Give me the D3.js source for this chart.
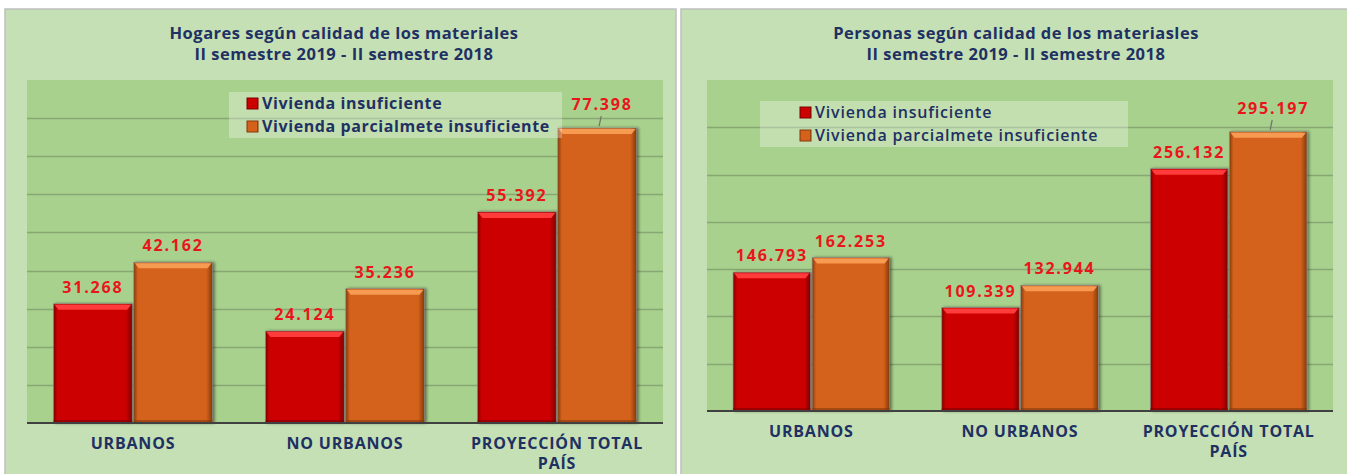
<!DOCTYPE html>
<html>
<head>
<meta charset="utf-8">
<script src="https://d3js.org/d3.v7.min.js"></script>
<style>
    body { margin: 0; background: #fff; }
    svg { display: block; }
    text { font-family: "Open Sans", sans-serif; }
</style>
</head>
<body>
<div id="chart"></div>
<script>
// datos
const categories = ["URBANOS", "NO URBANOS", "PROYECCIÓN TOTAL PAÍS"];
const seriesNames = ["Vivienda insuficiente", "Vivienda parcialmete insuficiente"];

const hogaresInsuficiente = [31268, 24124, 55392];
const hogaresParcial = [42162, 35236, 77398];
const hogaresMax = 90000;
const hogaresStep = 10000;

const personasInsuficiente = [146793, 109339, 256132];
const personasParcial = [162253, 132944, 295197];
const personasMax = 350000;
const personasStep = 50000;

const W = 1347, H = 474;

const esLocale = d3.formatLocale({ decimal: ",", thousands: ".", grouping: [3], currency: ["", ""] });
const fmt = esLocale.format(",d");

const svg = d3.select('#chart').append('svg')
    .attr('width', W)
    .attr('height', H);

const defs = svg.append('defs');

// colores de las series: base, claro (bisel superior), oscuro (bordes)
const palette = [
    { base: '#cc0000', light: '#ff3b3b', dark: '#7d0000' },
    { base: '#d4621a', light: '#f79a52', dark: '#84390c' }
];

palette.forEach((p, i) => {
    const g = defs.append('linearGradient')
        .attr('id', 'barGrad' + i)
        .attr('x1', 0).attr('x2', 1).attr('y1', 0).attr('y2', 0);
    g.append('stop').attr('offset', '0%').attr('stop-color', p.dark);
    g.append('stop').attr('offset', '5%').attr('stop-color', p.base);
    g.append('stop').attr('offset', '92%').attr('stop-color', p.base);
    g.append('stop').attr('offset', '100%').attr('stop-color', p.dark);
});

const shadow = defs.append('filter').attr('id', 'barShadow')
    .attr('x', '-10%').attr('y', '-10%').attr('width', '130%').attr('height', '120%');
shadow.append('feDropShadow')
    .attr('dx', 2).attr('dy', 0).attr('stdDeviation', 1.5)
    .attr('flood-color', '#000').attr('flood-opacity', 0.45);

function wrapLabel(label) {
    if (label.length <= 12) return [label];
    const idx = label.lastIndexOf(' ');
    return [label.slice(0, idx), label.slice(idx + 1)];
}

function drawChart(cfg) {
    const root = svg.append('g');

    // panel exterior
    root.append('rect')
        .attr('x', cfg.panel[0]).attr('y', cfg.panel[1])
        .attr('width', cfg.panel[2]).attr('height', cfg.panel[3])
        .attr('fill', '#c5e0b4')
        .attr('stroke', '#bfbfbf')
        .attr('stroke-width', 1.5);

    const left = cfg.plot[0], top = cfg.plot[1], right = cfg.plot[2], bottom = cfg.plot[3];

    // área de trazado
    root.append('rect')
        .attr('x', left).attr('y', top)
        .attr('width', right - left).attr('height', bottom - top)
        .attr('fill', '#a9d18e');

    const y = d3.scaleLinear().domain([0, cfg.max]).range([bottom, top]);
    const x0 = d3.scaleBand().domain(categories).range([left, right])
        .paddingInner(0.25).paddingOuter(0.125);
    const x1 = d3.scaleBand().domain([0, 1]).range([0, x0.bandwidth()]).paddingInner(0.02);

    // líneas de cuadrícula
    const ticks = d3.range(cfg.step, cfg.max, cfg.step);
    root.append('g').selectAll('line')
        .data(ticks)
        .join('line')
        .attr('x1', left).attr('x2', right)
        .attr('y1', d => Math.round(y(d)) + 0.5)
        .attr('y2', d => Math.round(y(d)) + 0.5)
        .attr('stroke', '#87a873')
        .attr('stroke-width', 1.5);

    // títulos
    const title = root.append('text')
        .attr('text-anchor', 'middle')
        .attr('font-size', '16.5px')
        .attr('font-weight', 'bold')
        .attr('letter-spacing', '0.5px')
        .attr('fill', '#1f3063');
    cfg.title.forEach((t, i) => {
        title.append('tspan')
            .attr('x', cfg.titleX)
            .attr('y', 39 + i * 21)
            .text(t);
    });

    const rows = [];
    categories.forEach((c, ci) => {
        cfg.values.forEach((vals, si) => {
            rows.push({ cat: c, ci: ci, si: si, v: vals[ci] });
        });
    });

    const barG = root.append('g');
    const bars = barG.selectAll('g.bar')
        .data(rows)
        .join('g')
        .attr('class', 'bar')
        .attr('transform', d => `translate(${x0(d.cat) + x1(d.si)},0)`);

    bars.append('rect')
        .attr('x', 0)
        .attr('y', d => y(d.v))
        .attr('width', x1.bandwidth())
        .attr('height', d => bottom - y(d.v))
        .attr('fill', d => `url(#barGrad${d.si})`)
        .attr('stroke', '#8a8a8a')
        .attr('stroke-width', 0.6)
        .attr('filter', 'url(#barShadow)');

    // bisel superior
    bars.append('path')
        .attr('d', d => {
            const t = y(d.v), w = x1.bandwidth();
            return `M1,${t + 1} L${w - 1},${t + 1} L${w - 5},${t + 6} L5,${t + 6} Z`;
        })
        .attr('fill', d => palette[d.si].light);

    bars.append('rect')
        .attr('x', 0)
        .attr('y', d => bottom - 3)
        .attr('width', x1.bandwidth())
        .attr('height', 3)
        .attr('fill', d => palette[d.si].dark)
        .attr('opacity', 0.6);

    // etiquetas de datos
    const labelG = root.append('g');
    const maxVal = d3.max(cfg.values.flat());
    rows.forEach(d => {
        const cx = x0(d.cat) + x1(d.si) + x1.bandwidth() / 2;
        const isMax = d.v === maxVal;
        let ly = y(d.v) - 11;
        if (isMax) {
            labelG.append('line')
                .attr('x1', cx + 4).attr('y1', y(d.v) - 12)
                .attr('x2', cx + 2).attr('y2', y(d.v) - 2)
                .attr('stroke', '#6f6f6f')
                .attr('stroke-width', 1.2);
            ly = y(d.v) - 18;
        }
        labelG.append('text')
            .attr('x', cx + (isMax ? 5 : 0))
            .attr('y', ly)
            .attr('text-anchor', 'middle')
            .attr('font-size', '16px')
            .attr('font-weight', 'bold')
            .attr('letter-spacing', '1.8px')
            .attr('fill', '#e8161b')
            .text(fmt(d.v));
    });

    // eje base
    root.append('line')
        .attr('x1', left).attr('x2', right)
        .attr('y1', bottom).attr('y2', bottom)
        .attr('stroke', '#404040')
        .attr('stroke-width', 2);

    // etiquetas de categoría
    const catG = root.append('g');
    categories.forEach(c => {
        const lines = wrapLabel(c);
        const t = catG.append('text')
            .attr('text-anchor', 'middle')
            .attr('font-size', '16px')
            .attr('font-weight', 'bold')
            .attr('letter-spacing', '0.8px')
            .attr('fill', '#1f3063');
        lines.forEach((ln, i) => {
            t.append('tspan')
                .attr('x', x0(c) + x0.bandwidth() / 2)
                .attr('y', bottom + 26 + i * 20)
                .text(ln);
        });
    });

    // leyenda
    const lg = root.append('g');
    lg.append('rect')
        .attr('x', cfg.legend[0]).attr('y', cfg.legend[1])
        .attr('width', cfg.legend[2]).attr('height', 46)
        .attr('fill', '#ffffff')
        .attr('opacity', 0.3);
    seriesNames.forEach((s, i) => {
        const ly = cfg.legend[1] + 11 + i * 23;
        lg.append('rect')
            .attr('x', cfg.legendMark).attr('y', ly - 5)
            .attr('width', 11).attr('height', 11)
            .attr('fill', `url(#barGrad${i})`)
            .attr('stroke', palette[i].dark)
            .attr('stroke-width', 1);
        lg.append('text')
            .attr('x', cfg.legendMark + 15)
            .attr('y', ly + 6)
            .attr('font-size', '16px')
            .attr('font-weight', cfg.legendWeight)
            .attr('letter-spacing', cfg.legendSpacing)
            .attr('fill', '#1f3063')
            .text(s);
    });
}

drawChart({
    panel: [5, 9, 671, 480],
    plot: [27, 80, 663, 423],
    title: ["Hogares según calidad de los materiales", "II semestre 2019 - II semestre 2018"],
    titleX: 344,
    values: [hogaresInsuficiente, hogaresParcial],
    max: hogaresMax,
    step: hogaresStep,
    legend: [229, 92, 333],
    legendMark: 247,
    legendWeight: 'bold',
    legendSpacing: '0.6px'
});

drawChart({
    panel: [681, 9, 680, 480],
    plot: [707, 80, 1333, 411],
    title: ["Personas según calidad de los materiasles", "II semestre 2019 - II semestre 2018"],
    titleX: 1016,
    values: [personasInsuficiente, personasParcial],
    max: personasMax,
    step: personasStep,
    legend: [760, 101, 368],
    legendMark: 800,
    legendWeight: 600,
    legendSpacing: '0.8px'
});
</script>
</body>
</html>
